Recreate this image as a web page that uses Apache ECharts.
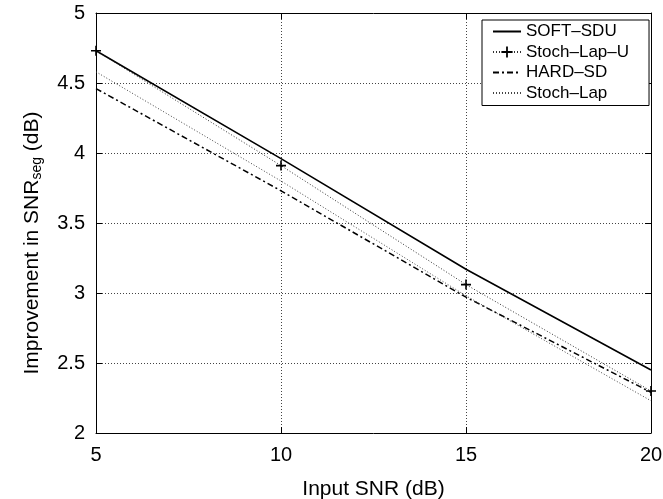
<!DOCTYPE html>
<html><head><meta charset="utf-8">
<script src="https://cdn.jsdelivr.net/npm/echarts@6/dist/echarts.min.js"></script>
<style>html,body{margin:0;padding:0;background:#fff}#c{width:663px;height:499px}</style>
</head><body><div id="c"></div>
<script>
const inputSNR = [5, 10, 15, 20];
const softSDU = [4.73, 3.96, 3.17, 2.45];
const stochLapU = [4.73, 3.91, 3.06, 2.30];
const hardSD = [4.46, 3.73, 2.97, 2.29];
const stochLap = [4.58, 3.80, 2.98, 2.23];
const seriesNames = ['SOFT–SDU', 'Stoch–Lap–U', 'HARD–SD', 'Stoch–Lap'];
const xTitle = 'Input SNR (dB)';
const yTitle = 'Improvement in SNR{sub|seg} (dB)';

const FONT = '"Liberation Sans", Arial, Helvetica, sans-serif';
const pairs = arr => inputSNR.map((x, i) => [x, arr[i]]);
const plus = 'path://M4.2,0H5.8V4.2H10V5.8H5.8V10H4.2V5.8H0V4.2H4.2Z';
const NONE = 'rgba(0,0,0,0)';

const chart = echarts.init(document.getElementById('c'));
const axisCommon = {
  axisLine: {show: true, lineStyle: {color: '#000', width: 1}},
  axisTick: {show: true, inside: true, length: 6, lineStyle: {color: '#000'}},
};
chart.setOption({
  animation: false,
  backgroundColor: '#fff',
  grid: {left: 96, right: 12, top: 13, bottom: 66, containLabel: false, outerBoundsMode: 'none'},
  graphic: [{
    type: 'text', x: 32, y: 243, rotation: Math.PI / 2,
    style: {
      text: yTitle, fontFamily: FONT, fontSize: 21, fill: '#000',
      align: 'center', verticalAlign: 'middle',
      rich: {sub: {fontFamily: FONT, fontSize: 14, fill: '#000', verticalAlign: 'bottom', padding: [10, 0, 0, 0]}}
    }
  }],
  legend: {
    orient: 'vertical', left: 482, top: 20,
    backgroundColor: '#fff', borderColor: '#000', borderWidth: 1, borderRadius: 0,
    padding: [3, 20, 4, 10],
    itemWidth: 28, itemHeight: 14, itemGap: 3.5, itemTextGap: 12,
    textStyle: {fontFamily: FONT, fontSize: 17, color: '#000'},
    data: seriesNames
  },
  xAxis: [
    Object.assign({}, axisCommon, {
      type: 'value', min: 5, max: 20, interval: 5, position: 'bottom',
      axisLabel: {fontFamily: FONT, fontSize: 20, color: '#000', margin: 12},
      splitLine: {show: true, lineStyle: {color: '#444', type: [1, 2], width: 1}},
      name: xTitle, nameLocation: 'middle', nameGap: 46,
      nameTextStyle: {fontFamily: FONT, fontSize: 21, color: '#000'}
    }),
    Object.assign({}, axisCommon, {
      type: 'value', min: 5, max: 20, interval: 5, position: 'top',
      axisLabel: {show: false}, splitLine: {show: false}
    })
  ],
  yAxis: [
    Object.assign({}, axisCommon, {
      type: 'value', min: 2, max: 5, interval: 0.5, position: 'left',
      axisLabel: {fontFamily: FONT, fontSize: 20, color: '#000', margin: 11},
      splitLine: {show: true, lineStyle: {color: '#444', type: [1, 2], width: 1}}
    }),
    Object.assign({}, axisCommon, {
      type: 'value', min: 2, max: 5, interval: 0.5, position: 'right',
      axisLabel: {show: false}, splitLine: {show: false}
    })
  ],
  series: [
    {name: seriesNames[0], type: 'line', data: pairs(softSDU), symbol: 'none',
     lineStyle: {color: '#000', width: 1.6, type: 'solid'}, itemStyle: {color: NONE}},
    {name: seriesNames[1], type: 'line', data: pairs(stochLapU), symbol: plus, symbolSize: 10,
     lineStyle: {color: '#333', width: 1, type: [1, 2]}, itemStyle: {color: '#000'}},
    {name: seriesNames[2], type: 'line', data: pairs(hardSD), symbol: 'none',
     lineStyle: {color: '#000', width: 1.5, type: [6, 3, 2, 3]}, itemStyle: {color: NONE}},
    {name: seriesNames[3], type: 'line', data: pairs(stochLap), symbol: 'none',
     lineStyle: {color: '#444', width: 1, type: [1, 2]}, itemStyle: {color: NONE}}
  ]
});
</script></body></html>
